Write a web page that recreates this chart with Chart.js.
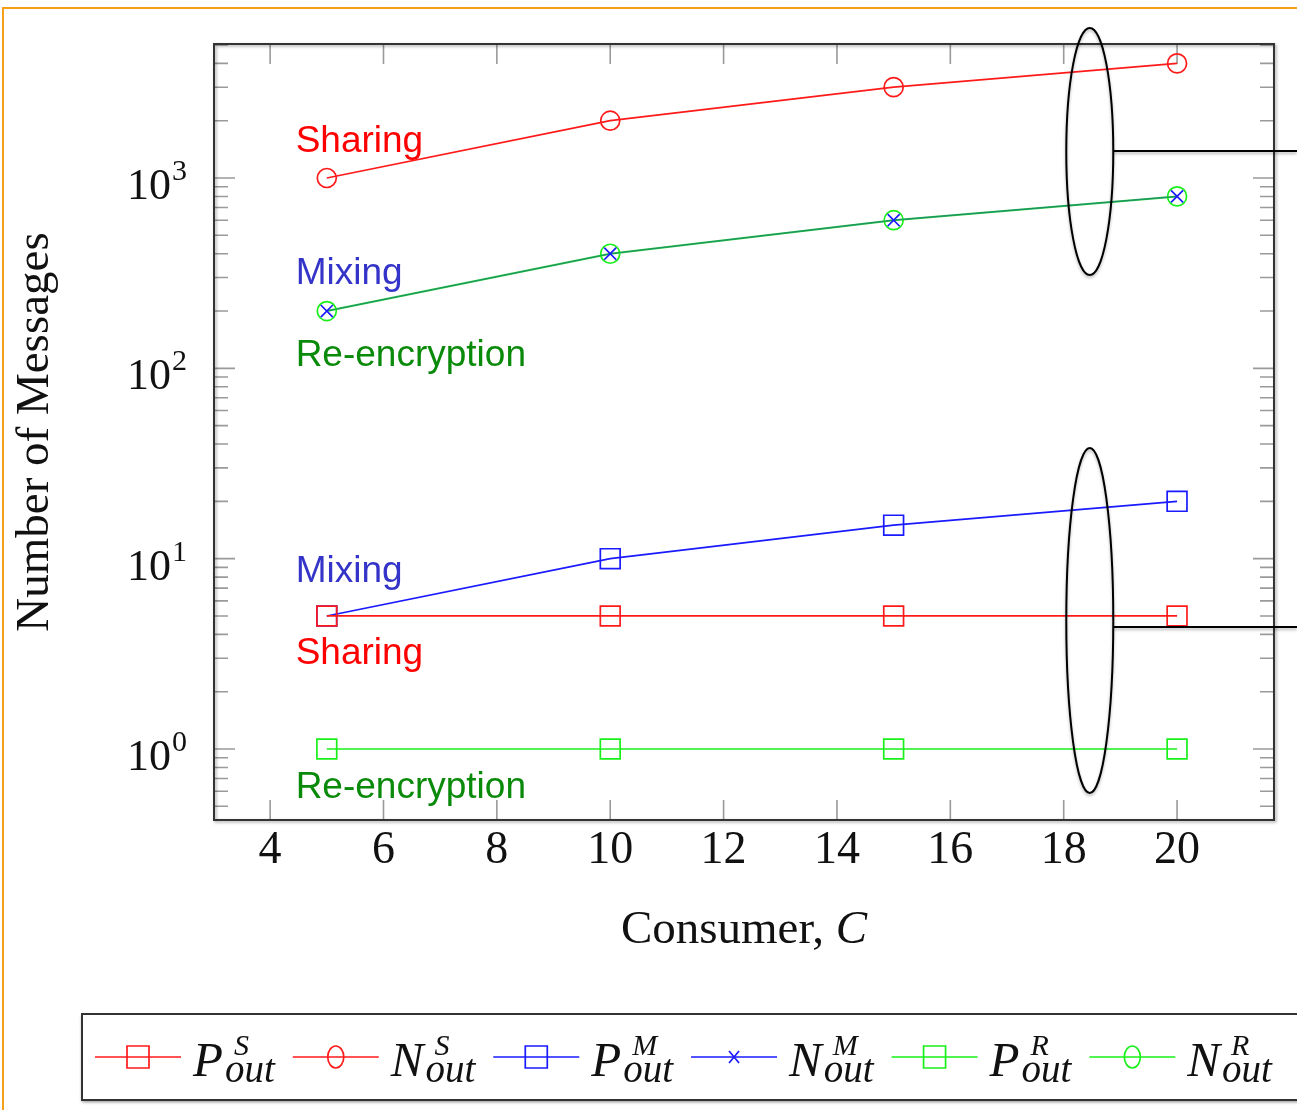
<!DOCTYPE html>
<html>
<head>
<meta charset="utf-8">
<script src="https://cdn.jsdelivr.net/npm/chart.js@4.4.1/dist/chart.umd.min.js"></script>
<style>
  html, body { margin: 0; padding: 0; background: #fff; }
  #wrap { width: 1297px; height: 1110px; position: relative; }
</style>
</head>
<body>
<div id="wrap"><canvas id="chart" width="1297" height="1110"></canvas></div>
<script>
// consumers on the x axis
const consumers = [5, 10, 15, 20];

// number of messages per scheme
const pSharing = [5, 5, 5, 5];
const nSharing = [1000, 2000, 3000, 4000];
const pMixing = [5, 10, 15, 20];
const nMixing = [200, 400, 600, 800];
const pReenc = [1, 1, 1, 1];
const nReenc = [200, 400, 600, 800];

// axes
const xTicks = [4, 6, 8, 10, 12, 14, 16, 18, 20];
const yMajor = [1, 10, 100, 1000];
const yExponents = ['0', '1', '2', '3'];

// legend text (main letter, superscript)
const legendMain = ['P', 'N', 'P', 'N', 'P', 'N'];
const legendSup = ['S', 'S', 'M', 'M', 'R', 'R'];

// text notes inside the plot (x in consumers, y in messages)
const noteText = ['Sharing', 'Mixing', 'Re-encryption', 'Mixing', 'Sharing', 'Re-encryption'];
const noteX = [4.45, 4.45, 4.45, 4.45, 4.45, 4.45];
const noteY = [1370, 277, 103, 7.57, 2.81, 0.553];

// the two ellipses grouping the N and P curves
const ringX = 18.46;
const ringTop = [6138, 38.1];
const ringBottom = [309, 0.587];
const ringLinkY = [1387, 4.38];

const SERIF = '"Liberation Serif", "Times New Roman", serif';
const SANS = '"Liberation Sans", Arial, sans-serif';
const RED = '#ff1a1a';
const BLUE = '#1a1aff';
const LIME = '#19f019';
const noteColors = {Sharing: '#ff0000', Mixing: '#3434c8', 'Re-encryption': '#0a8a0a'};

function pts(values) {
    return consumers.map((c, i) => ({ x: c, y: values[i] }));
}

function series(label, values, color, style, radius, lineColor, lineWidth) {
    return {
        label: label,
        data: pts(values),
        borderColor: lineColor || color,
        borderWidth: lineWidth || 1.7,
        pointStyle: style,
        pointRadius: radius,
        pointBorderColor: color,
        pointBackgroundColor: 'rgba(0,0,0,0)',
        pointBorderWidth: 1.7,
        tension: 0,
        fill: false
    };
}

const datasets = [
    series('P_S', pSharing, RED, 'rect', 14),
    series('N_S', nSharing, RED, 'circle', 9.5),
    series('P_M', pMixing, BLUE, 'rect', 14),
    series('N_M', nMixing, BLUE, 'crossRot', 8.5, 'rgba(20,20,200,0.3)', 1.2),
    series('P_R', pReenc, LIME, 'rect', 14),
    series('N_R', nReenc, LIME, 'circle', 9.5, '#22c83a', 2)
];

const backgroundPlugin = {
    id: 'background',
    beforeDraw(chart) {
        const ctx = chart.ctx;
        ctx.save();
        ctx.fillStyle = '#fff';
        ctx.fillRect(0, 0, chart.width, chart.height);
        ctx.strokeStyle = '#f6a01a';
        ctx.lineWidth = 2;
        ctx.beginPath();
        ctx.moveTo(3, chart.height);
        ctx.lineTo(3, 8);
        ctx.lineTo(chart.width, 8);
        ctx.stroke();
        ctx.restore();
    }
};

const framePlugin = {
    id: 'frame',
    beforeDatasetsDraw(chart) {
        const { ctx, chartArea: a, scales: { x, y } } = chart;
        ctx.save();
        ctx.strokeStyle = '#9a9a9a';
        ctx.lineWidth = 1.6;
        ctx.beginPath();
        xTicks.forEach(v => {
            const px = x.getPixelForValue(v);
            ctx.moveTo(px, a.bottom); ctx.lineTo(px, a.bottom - 20);
            ctx.moveTo(px, a.top); ctx.lineTo(px, a.top + 20);
        });
        yMajor.forEach(v => {
            const py = y.getPixelForValue(v);
            ctx.moveTo(a.left, py); ctx.lineTo(a.left + 21, py);
            ctx.moveTo(a.right, py); ctx.lineTo(a.right - 21, py);
        });
        // minor ticks of the log axis
        [0.1, 1, 10, 100, 1000].forEach(d => {
            for (let m = 2; m <= 9; m++) {
                const v = m * d;
                if (v < y.min || v > y.max) continue;
                const py = y.getPixelForValue(v);
                ctx.moveTo(a.left, py); ctx.lineTo(a.left + 14, py);
                ctx.moveTo(a.right, py); ctx.lineTo(a.right - 14, py);
            }
        });
        ctx.stroke();

        ctx.shadowColor = 'rgba(0,0,0,0.35)';
        ctx.shadowBlur = 3;
        ctx.shadowOffsetX = 1.5;
        ctx.shadowOffsetY = 1.5;
        ctx.strokeStyle = '#333';
        ctx.lineWidth = 2;
        ctx.strokeRect(a.left, a.top, a.right - a.left, a.bottom - a.top);
        ctx.restore();
    }
};

function drawMath(ctx, x, base, main, sup, color) {
    ctx.fillStyle = color || '#111';
    ctx.textAlign = 'left';
    ctx.textBaseline = 'alphabetic';
    ctx.font = 'italic 49px ' + SERIF;
    ctx.fillText(main, x, base);
    const w = ctx.measureText(main).width;
    ctx.font = 'italic 30px ' + SERIF;
    ctx.fillText(sup, x + w + 11, base - 21);
    const supW = ctx.measureText(sup).width;
    ctx.font = 'italic 39px ' + SERIF;
    ctx.fillText('out', x + w + 2, base + 6);
    const subW = ctx.measureText('out').width;
    return Math.max(w + 11 + supW, w + 2 + subW);
}

function drawLegendMarker(ctx, cx, cy, ds) {
    ctx.strokeStyle = ds.pointBorderColor;
    ctx.lineWidth = 1.7;
    ctx.beginPath();
    if (ds.pointStyle === 'rect') {
        ctx.rect(cx - 11, cy - 11, 22, 22);
    } else if (ds.pointStyle === 'circle') {
        ctx.ellipse(cx, cy, 8, 11, 0, 0, Math.PI * 2);
    } else {
        ctx.moveTo(cx - 5, cy - 6); ctx.lineTo(cx + 5, cy + 6);
        ctx.moveTo(cx + 5, cy - 6); ctx.lineTo(cx - 5, cy + 6);
    }
    ctx.stroke();
}

const textPlugin = {
    id: 'texts',
    afterDraw(chart) {
        const { ctx, chartArea: a, scales: { x, y } } = chart;
        ctx.save();

        // y tick labels 10^k
        yMajor.forEach((v, i) => {
            const py = y.getPixelForValue(v);
            ctx.fillStyle = '#111';
            ctx.textBaseline = 'alphabetic';
            ctx.font = '44px ' + SERIF;
            ctx.textAlign = 'right';
            ctx.fillText('10', 171, py + 21);
            ctx.font = '30px ' + SERIF;
            ctx.textAlign = 'left';
            ctx.fillText(yExponents[i], 172, py + 2);
        });

        // axis titles
        ctx.fillStyle = '#111';
        ctx.font = '47px ' + SERIF;
        const t1 = 'Consumer, ';
        const w1 = ctx.measureText(t1).width;
        ctx.font = 'italic 47px ' + SERIF;
        const w2 = ctx.measureText('C').width;
        const xs = (a.left + a.right) / 2 - (w1 + w2) / 2;
        ctx.textAlign = 'left';
        ctx.font = '47px ' + SERIF;
        ctx.fillText(t1, xs, 943);
        ctx.font = 'italic 47px ' + SERIF;
        ctx.fillText('C', xs + w1, 943);

        ctx.save();
        ctx.translate(48, 432);
        ctx.rotate(-Math.PI / 2);
        ctx.textAlign = 'center';
        ctx.font = '47px ' + SERIF;
        ctx.fillText('Number of Messages', 0, 0);
        ctx.restore();

        // notes in the plot
        ctx.font = '37px ' + SANS;
        ctx.textAlign = 'left';
        noteText.forEach((t, i) => {
            ctx.fillStyle = noteColors[t];
            ctx.fillText(t, x.getPixelForValue(noteX[i]), y.getPixelForValue(noteY[i]));
        });

        // ellipses with leader lines
        ctx.save();
        ctx.strokeStyle = '#000';
        ctx.lineWidth = 2;
        ctx.shadowColor = 'rgba(0,0,0,0.3)';
        ctx.shadowBlur = 3;
        ctx.shadowOffsetY = 2;
        const cx = x.getPixelForValue(ringX);
        ringTop.forEach((top, i) => {
            const t = y.getPixelForValue(top);
            const b = y.getPixelForValue(ringBottom[i]);
            ctx.beginPath();
            ctx.ellipse(cx, (t + b) / 2, 23.5, (b - t) / 2, 0, 0, Math.PI * 2);
            ctx.stroke();
            const ly = y.getPixelForValue(ringLinkY[i]);
            ctx.beginPath();
            ctx.moveTo(cx + 23.5, ly);
            ctx.lineTo(chart.width, ly);
            ctx.stroke();
        });
        ctx.restore();

        // legend box
        ctx.save();
        ctx.fillStyle = '#fff';
        ctx.shadowColor = 'rgba(0,0,0,0.45)';
        ctx.shadowBlur = 3;
        ctx.shadowOffsetY = 2;
        ctx.fillRect(82, 1014, 1260, 86);
        ctx.restore();
        ctx.strokeStyle = '#333';
        ctx.lineWidth = 2;
        ctx.strokeRect(82, 1014, 1260, 86);

        let lx = 95;
        const ly = 1057;
        datasets.forEach((ds, i) => {
            ctx.strokeStyle = ds.pointBorderColor;
            ctx.lineWidth = 1.7;
            ctx.beginPath();
            ctx.moveTo(lx, ly);
            ctx.lineTo(lx + 86, ly);
            ctx.stroke();
            drawLegendMarker(ctx, lx + 43, ly, ds);
            const w = drawMath(ctx, lx + 98, 1076, legendMain[i], legendSup[i]);
            lx += 98 + w + 18;
        });

        ctx.restore();
    }
};

new Chart(document.getElementById('chart'), {
    type: 'line',
    data: { datasets: datasets },
    options: {
        responsive: false,
        animation: false,
        layout: { padding: { left: 0, top: 44, right: 23, bottom: 0 } },
        plugins: { legend: { display: false }, tooltip: { enabled: false } },
        scales: {
            x: {
                type: 'linear',
                min: 3.01,
                max: 21.71,
                grid: { display: false, drawTicks: false },
                border: { display: false },
                ticks: {
                    color: '#111',
                    font: { family: SERIF, size: 46 },
                    padding: 3,
                    maxRotation: 0,
                    autoSkip: false
                },
                afterBuildTicks: s => { s.ticks = xTicks.map(v => ({ value: v })); },
                afterFit: s => { s.height = 290; }
            },
            y: {
                type: 'logarithmic',
                min: 0.4236,
                max: 5058,
                grid: { display: false, drawTicks: false },
                border: { display: false },
                ticks: { display: false },
                afterBuildTicks: s => { s.ticks = yMajor.map(v => ({ value: v })); },
                afterFit: s => { s.width = 214; }
            }
        }
    },
    plugins: [backgroundPlugin, framePlugin, textPlugin]
});
</script>
</body>
</html>
